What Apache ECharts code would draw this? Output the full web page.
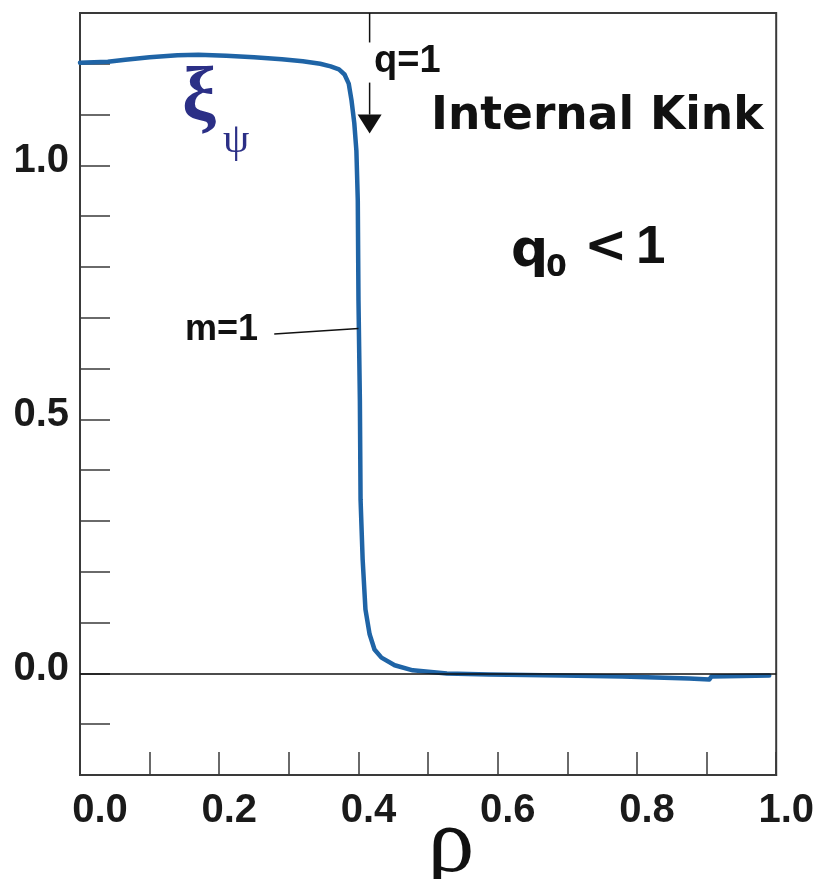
<!DOCTYPE html>
<html>
<head>
<meta charset="utf-8">
<script src="https://cdn.jsdelivr.net/npm/echarts@6/dist/echarts.min.js"></script>
<style>
  html, body { margin: 0; padding: 0; background: #ffffff; }
  #chart { width: 817px; height: 879px; }
</style>
</head>
<body>
<div id="chart"></div>
<script>
// Normalised radius rho and the m=1 internal-kink displacement xi_psi
const rho = [0, 0.02, 0.04, 0.065, 0.1, 0.14, 0.17, 0.21, 0.25, 0.29, 0.32, 0.345, 0.36, 0.372,
  0.38, 0.386, 0.39, 0.394, 0.397, 0.399, 0.4, 0.402, 0.403, 0.406, 0.41, 0.416, 0.423, 0.433,
  0.452, 0.478, 0.527, 0.588, 0.693, 0.779, 0.875, 0.904, 0.907, 0.95, 0.99];
const xiPsi = [1.202, 1.203, 1.204, 1.208, 1.213, 1.217, 1.218, 1.216, 1.213, 1.209, 1.205, 1.2, 1.195, 1.189,
  1.179, 1.161, 1.128, 1.083, 1.029, 0.931, 0.735, 0.538, 0.342, 0.224, 0.126, 0.077, 0.047, 0.031,
  0.016, 0.006, 0.0, -0.002, -0.004, -0.006, -0.01, -0.012, -0.006, -0.005, -0.004];

const xTickLabels = ['0.0', '0.2', '0.4', '0.6', '0.8', '1.0'];
const yTickLabels = ['0.0', '0.5', '1.0'];

// q = 1 rational surface and the point where the m=1 tag meets the curve
const qOneRho = 0.416;
const mTagStart = [0.279, 0.668];
const mTagEnd = [0.4, 0.679];

const chart = echarts.init(document.getElementById('chart'));

const sans = '"Liberation Sans", Arial, Helvetica, sans-serif';
const serif = '"Liberation Serif", "Times New Roman", serif';
const heavy = '"DejaVu Sans", sans-serif';
const frame = '#3a3a3a';

const tickStyle = (pad) => ({
  fontFamily: sans, fontWeight: 'bold', fontSize: 40, color: '#1a1a1a', padding: pad
});

const pts = rho.map((r, i) => [r, xiPsi[i]]);

chart.setOption({
  animation: false,
  backgroundColor: '#ffffff',
  grid: {
    left: 80, right: 40, top: 13, bottom: 104,
    show: true, borderColor: frame, borderWidth: 2, backgroundColor: 'transparent'
  },
  xAxis: {
    type: 'value', min: 0, max: 1, interval: 0.1,
    axisLine: { show: true, onZero: false, lineStyle: { color: frame, width: 2 } },
    axisTick: { show: true, inside: true, length: 23, lineStyle: { color: frame, width: 1.5 } },
    splitLine: { show: false },
    axisLabel: {
      show: true, margin: 16, showMinLabel: true, showMaxLabel: true,
      formatter: (v) => {
        const s = v.toFixed(1);
        if (!xTickLabels.includes(s)) return '';
        return s === '0.0' ? '{first|' + s + '}' : '{other|' + s + '}';
      },
      rich: {
        first: tickStyle([0, 0, 0, 40]),
        other: tickStyle([0, 0, 0, 20])
      }
    }
  },
  yAxis: {
    type: 'value', min: -0.2, max: 1.3, interval: 0.1,
    axisLine: { show: true, onZero: false, lineStyle: { color: frame, width: 2 } },
    axisTick: { show: true, inside: true, length: 30, lineStyle: { color: frame, width: 1.5 } },
    splitLine: { show: false },
    axisLabel: {
      show: true, margin: 11, showMinLabel: true, showMaxLabel: true,
      formatter: (v) => {
        const s = v.toFixed(1);
        return yTickLabels.includes(s) ? '{y|' + s + '}' : '';
      },
      rich: { y: tickStyle([0, 0, 9, 0]) }
    }
  },
  series: [
    {
      // zero reference line
      type: 'line', data: [], z: 1, silent: true,
      markLine: {
        silent: true, symbol: 'none', animation: false,
        label: { show: false },
        lineStyle: { color: '#111111', width: 1.5, type: 'solid' },
        data: [{ yAxis: 0 }]
      }
    },
    {
      type: 'line', data: pts, z: 3, showSymbol: false, smooth: false,
      lineStyle: { color: '#1f64a6', width: 4.5, cap: 'round', join: 'round' }
    }
  ]
});

const px = (p) => chart.convertToPixel({ gridIndex: 0 }, p);

// q = 1 arrow: stem interrupted by its label, filled head
const a0 = px([qOneRho, 1.3]);
const a1 = px([qOneRho, 1.242]);
const a2 = px([qOneRho, 1.163]);
const a3 = px([qOneRho, 1.1]);
const tip = px([qOneRho, 1.063]);
const m0 = px(mTagStart);
const m1 = px(mTagEnd);

const txt = (text, x, y, font, fill, align) => ({
  type: 'text', z: 10, silent: true,
  style: { text, x, y, font, fill: fill || '#111111', textAlign: align || 'left', textVerticalAlign: 'middle', verticalAlign: 'middle' }
});

chart.setOption({
  graphic: [
    { type: 'line', silent: true, z: 9, shape: { x1: a0[0], y1: a0[1], x2: a1[0], y2: a1[1] }, style: { stroke: '#111', lineWidth: 1.5 } },
    { type: 'line', silent: true, z: 9, shape: { x1: a2[0], y1: a2[1], x2: a3[0], y2: a3[1] }, style: { stroke: '#111', lineWidth: 1.5 } },
    { type: 'polygon', silent: true, z: 9, shape: { points: [[a3[0] - 12, a3[1]], [a3[0] + 12, a3[1]], [tip[0], tip[1]]] }, style: { fill: '#111' } },
    { type: 'line', silent: true, z: 9, shape: { x1: m0[0], y1: m0[1], x2: m1[0], y2: m1[1] }, style: { stroke: '#111', lineWidth: 1.5 } },

    txt('q=1', 374, 62, 'bold 38px ' + sans),
    txt('Internal Kink', 431, 117, 'bold 45.5px ' + heavy),
    txt('q', 511, 252, 'bold 52px ' + heavy),
    txt('0', 546, 268, 'bold 30px ' + heavy),
    txt('<', 584, 248, 'bold 52px ' + heavy),
    txt('1', 636, 248, 'bold 53px ' + sans),
    txt('m=1', 258, 330, 'bold 36px ' + sans, '#111', 'right'),
    txt('ξ', 182, 100, 'bold 76px ' + serif, '#2b2f86'),
    txt('ψ', 223, 141, '42px ' + serif, '#2b2f86'),
    txt('ρ', 451, 846, '94px ' + serif, '#111', 'center')
  ]
});
</script>
</body>
</html>
